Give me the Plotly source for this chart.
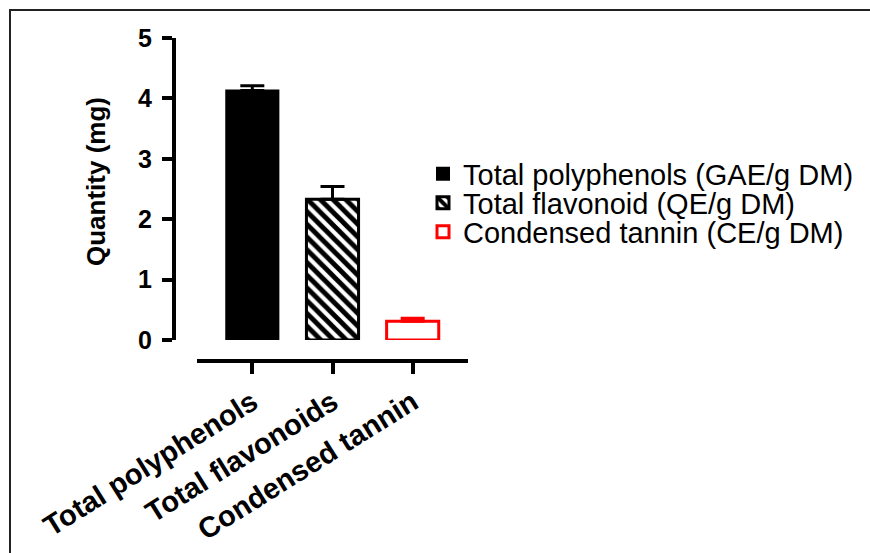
import plotly.graph_objects as go

# Assay results (mg per g dry matter), mean and upper error
categories = ["Total polyphenols", "Total flavonoids", "Condensed tannin"]
means = [4.13, 2.33, 0.31]
errors = [0.08, 0.21, 0.05]
legend_names = [
    "Total polyphenols (GAE/g DM)",
    "Total flavonoid (QE/g DM)",
    "Condensed tannin (CE/g DM)",
]
y_ticks = [0, 1, 2, 3, 4, 5]

W, H = 870, 553
FONT = "Liberation Sans, Arial, Helvetica, sans-serif"


def px_x(px):
    return px / W


def px_y(px):
    return 1 - px / H


styles = [
    dict(color="black", line=dict(color="black", width=2)),
    dict(color="white", line=dict(color="black", width=3),
         pattern=dict(shape="\\", fgcolor="black", bgcolor="white",
                      size=9, solidity=0.55, fillmode="replace")),
    dict(color="white", line=dict(color="#ff0000", width=3)),
]
err_colors = ["black", "black", "#ff0000"]
legend_ids = ["legend", "legend2", "legend3"]
legend_rows = [174, 203, 232]  # row centres, px from top

fig = go.Figure()
for i, cat in enumerate(categories):
    fig.add_trace(go.Bar(
        x=[cat], y=[means[i]], name=legend_names[i], width=0.65,
        marker=styles[i], legend=legend_ids[i],
        error_y=dict(type="data", symmetric=False, array=[errors[i]],
                     arrayminus=[0], color=err_colors[i], thickness=3,
                     width=12),
    ))

legend_layout = {}
for lid, row in zip(legend_ids, legend_rows):
    legend_layout[lid] = dict(
        x=px_x(423), y=px_y(row), xanchor="left", yanchor="middle",
        font=dict(family=FONT, size=29, color="black"),
        bgcolor="rgba(0,0,0,0)", borderwidth=0,
    )

fig.update_layout(
    width=W, height=H,
    margin=dict(l=0, r=0, t=0, b=0),
    paper_bgcolor="white", plot_bgcolor="white",
    barmode="overlay",
    font=dict(family=FONT, color="black"),
    showlegend=True,
    **legend_layout,
    xaxis=dict(
        domain=[px_x(197), px_x(468)], range=[-0.69, 2.69],
        anchor="free", position=px_y(361),
        showline=True, linecolor="black", linewidth=4,
        ticks="outside", ticklen=11, tickwidth=4, tickcolor="black",
        tickangle=-32, tickfont=dict(family=FONT, size=29, weight="bold"),
        showgrid=False, zeroline=False, automargin=False, fixedrange=True,
    ),
    yaxis=dict(
        domain=[px_y(340), px_y(38)], range=[0, 5],
        anchor="free", position=px_x(174),
        showline=True, linecolor="black", linewidth=4,
        ticks="outside", ticklen=10, tickwidth=4, tickcolor="black",
        tickvals=y_ticks, ticklabelstandoff=5,
        tickfont=dict(family=FONT, size=25, weight="bold"),
        showgrid=False, zeroline=False, automargin=False, fixedrange=True,
    ),
    annotations=[dict(
        text="<b>Quantity (mg)</b>", textangle=-90, showarrow=False,
        xref="paper", yref="paper", x=px_x(96), y=px_y(182),
        xanchor="center", yanchor="middle",
        font=dict(family=FONT, size=26, color="black"),
    )],
    shapes=[dict(
        type="rect", xref="paper", yref="paper",
        x0=px_x(10), x1=1.05, y0=-0.05, y1=px_y(10),
        line=dict(color="#222222", width=2), fillcolor="rgba(0,0,0,0)",
    )],
)

fig.write_html("out.html")
